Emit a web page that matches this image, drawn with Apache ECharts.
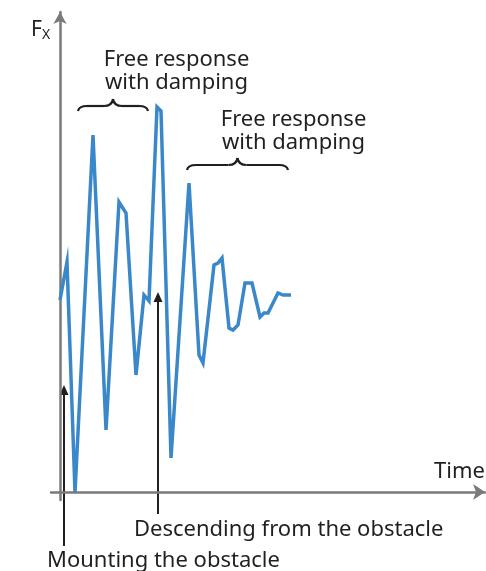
<!DOCTYPE html>
<html>
<head>
<meta charset="utf-8">
<script src="https://cdn.jsdelivr.net/npm/echarts@6/dist/echarts.min.js"></script>
<style>html,body{margin:0;padding:0;background:#fff}#c{width:486px;height:571px}</style>
</head>
<body>
<div id="c"></div>
<script>
// Time (arbitrary units) and force Fx (arbitrary units)
const time = [0, 7, 15, 33, 46, 59, 66, 76, 84, 89, 97, 101, 111, 129, 139, 143, 154, 158, 162, 169, 173, 178, 185, 192, 200, 204, 208, 218, 223, 231];
const force = [192, 230, 0, 357, 62, 290, 279, 117, 197, 191, 385, 381, 34, 309, 137, 129, 227, 229, 234, 164, 162, 167, 209, 209, 175, 179, 179, 199, 197, 197];
// event times (mounting / descending) and arrow tip levels
const eventTimes = [4, 98];
const eventTips = [107, 200];
const eventLabels = ['Mounting the obstacle', 'Descending from the obstacle'];
// damping intervals [start, end]
const dampIntervals = [[18, 88], [127, 228]];
const dampLabel = 'Free response\nwith damping';

const FONT = '"Noto Sans", "Open Sans", sans-serif';
const TXT = '#231f20';
const chart = echarts.init(document.getElementById('c'));

chart.setOption({
  animation: false,
  grid: { left: 51, right: 1, top: 12, bottom: 71 },
  xAxis: {
    type: 'value', min: -9, max: 425,
    axisLine: { onZero: true, symbol: ['none', 'arrow'], symbolSize: [12, 12], lineStyle: { color: '#7a7a7a', width: 2.5 } },
    axisTick: { show: false }, axisLabel: { show: false }, splitLine: { show: false }
  },
  yAxis: {
    type: 'value', min: -8, max: 480,
    axisLine: { show: true, onZero: true, symbol: ['none', 'arrow'], symbolSize: [10, 12], lineStyle: { color: '#7a7a7a', width: 2.5 } },
    axisTick: { show: false }, axisLabel: { show: false }, splitLine: { show: false }
  },
  series: [{
    type: 'line',
    data: time.map((t, i) => [t, force[i]]),
    showSymbol: false,
    lineStyle: { color: '#3a88c9', width: 3.5, join: 'miter' },
    clip: false
  }]
});

function px(t, f) { return chart.convertToPixel({ gridIndex: 0 }, [t, f]); }

const g = [];
// axis titles
g.push({ type: 'text', left: 31, top: 19.5, style: { text: 'F', font: '21px ' + FONT, fill: TXT, lineHeight: 20 } });
g.push({ type: 'text', left: 42, top: 28, style: { text: 'X', font: '14px ' + FONT, fill: TXT, lineHeight: 14 } });
g.push({ type: 'text', right: 1, top: 460.5, style: { text: 'Time', font: '22px ' + FONT, fill: TXT, lineHeight: 22 } });

// event arrows
const arrowBottoms = [546, 514];
eventTimes.forEach((t, i) => {
  const tip = px(t, eventTips[i]);
  const x = tip[0];
  g.push({ type: 'line', shape: { x1: x, y1: arrowBottoms[i], x2: x, y2: tip[1] + 8 }, style: { stroke: TXT, lineWidth: 2 } });
  g.push({ type: 'polygon', shape: { points: [[x, tip[1]], [x - 4.5, tip[1] + 10], [x + 4.5, tip[1] + 10]] }, style: { fill: TXT } });
});
g.push({ type: 'text', left: 134, top: 518.5, style: { text: eventLabels[1], font: '22px ' + FONT, fill: TXT, lineHeight: 22 } });
g.push({ type: 'text', left: 47, top: 549.5, style: { text: eventLabels[0], font: '22px ' + FONT, fill: TXT, lineHeight: 22 } });

// braces and labels
const braceTops = [99, 158];
const labelTops = [48, 108];
const labelShift = [63.5, 56];
dampIntervals.forEach((iv, i) => {
  const x1 = px(iv[0], 0)[0], x2 = px(iv[1], 0)[0];
  const xm = (x1 + x2) / 2;
  const yt = braceTops[i], ym = yt + 7, yb = yt + 12;
  const q = 9;
  const st = { stroke: TXT, lineWidth: 2.2, fill: null };
  g.push({ type: 'bezierCurve', shape: { x1: x1, y1: yb, cpx1: x1 + 1, cpy1: ym, x2: x1 + q, y2: ym }, style: st });
  g.push({ type: 'line', shape: { x1: x1 + q, y1: ym, x2: xm - q, y2: ym }, style: st });
  g.push({ type: 'bezierCurve', shape: { x1: xm - q, y1: ym, cpx1: xm - 1, cpy1: ym, x2: xm, y2: yt }, style: st });
  g.push({ type: 'bezierCurve', shape: { x1: xm, y1: yt, cpx1: xm + 1, cpy1: ym, x2: xm + q, y2: ym }, style: st });
  g.push({ type: 'line', shape: { x1: xm + q, y1: ym, x2: x2 - q, y2: ym }, style: st });
  g.push({ type: 'bezierCurve', shape: { x1: x2 - q, y1: ym, cpx1: x2 - 1, cpy1: ym, x2: x2, y2: yb }, style: st });
  g.push({ type: 'text', x: xm + labelShift[i], y: labelTops[i], style: { text: dampLabel, font: '22px ' + FONT, fill: TXT, textAlign: 'center', lineHeight: 23 } });
});
chart.setOption({ graphic: g });
</script>
</body>
</html>
